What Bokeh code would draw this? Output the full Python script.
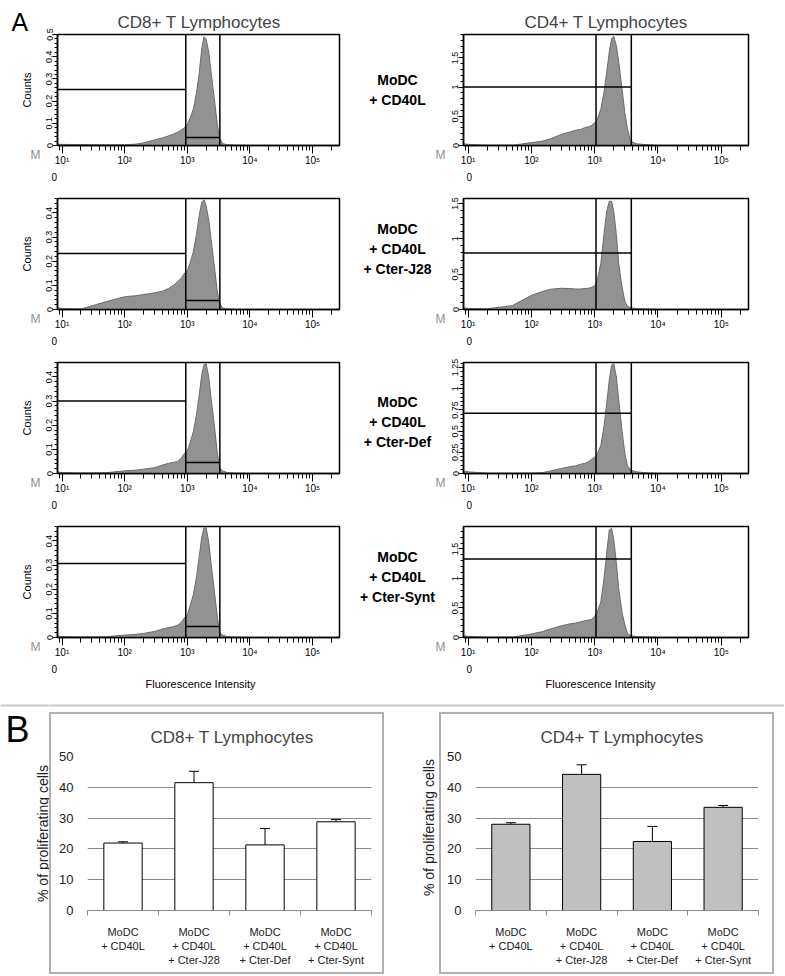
import math
from bokeh.plotting import figure
from bokeh.layouts import column, row
from bokeh.models import (Range1d, FixedTicker, SingleIntervalTicker, CustomJSTickFormatter,
                          Span, Whisker, TeeHead, ColumnDataSource, Title, Spacer)
from bokeh.core.properties import value
from bokeh.embed import file_html
from bokeh.resources import INLINE

FONT = "Liberation Sans"

# ---------------- data ----------------
X_BINS = [8.5, 10, 20, 50, 100, 150, 200, 300, 400, 500, 600, 700, 800, 900, 1000, 1100,
          1250, 1400, 1550, 1700, 1850, 2000, 2200, 2400, 2700, 3000, 3300, 3700, 4500, 6000, 10000]

CD8_CD40L = [0.006, 0.005, 0.004, 0.003, 0.003, 0.006, 0.012, 0.025, 0.034, 0.043, 0.052, 0.060,
             0.070, 0.080, 0.095, 0.120, 0.165, 0.235, 0.326, 0.435, 0.490, 0.480, 0.420, 0.330,
             0.210, 0.100, 0.030, 0.008, 0.003, 0.001, 0.0]
CD8_J28 = [0.008, 0.004, 0.002, 0.032, 0.053, 0.057, 0.062, 0.069, 0.076, 0.087, 0.100, 0.115,
           0.130, 0.150, 0.160, 0.190, 0.240, 0.310, 0.390, 0.445, 0.455, 0.430, 0.370, 0.290,
           0.180, 0.080, 0.022, 0.006, 0.002, 0.0, 0.0]
CD8_DEF = [0.006, 0.004, 0.002, 0.003, 0.011, 0.014, 0.018, 0.024, 0.035, 0.042, 0.046, 0.050,
           0.063, 0.083, 0.093, 0.125, 0.174, 0.243, 0.326, 0.410, 0.452, 0.455, 0.400, 0.310,
           0.200, 0.090, 0.022, 0.010, 0.003, 0.001, 0.0]
CD8_SYNT = [0.006, 0.004, 0.002, 0.003, 0.010, 0.013, 0.017, 0.025, 0.035, 0.041, 0.045, 0.051,
            0.062, 0.082, 0.094, 0.128, 0.178, 0.250, 0.335, 0.415, 0.455, 0.455, 0.395, 0.305,
            0.195, 0.088, 0.020, 0.009, 0.003, 0.001, 0.0]

CD4_CD40L = [0.03, 0.02, 0.004, 0.003, 0.05, 0.075, 0.115, 0.19, 0.23, 0.26, 0.276, 0.305, 0.32,
             0.345, 0.39, 0.45, 0.62, 0.91, 1.25, 1.6, 1.83, 1.87, 1.71, 1.43, 0.97, 0.56, 0.28,
             0.075, 0.03, 0.017, 0.0]
CD4_J28 = [0.025, 0.015, 0.01, 0.055, 0.2, 0.255, 0.287, 0.30, 0.296, 0.29, 0.29, 0.296, 0.30,
           0.315, 0.333, 0.417, 0.65, 1.06, 1.39, 1.53, 1.53, 1.39, 1.06, 0.65, 0.32, 0.116,
           0.046, 0.023, 0.014, 0.009, 0.0]
CD4_DEF = [0.03, 0.02, 0.003, 0.002, 0.004, 0.01, 0.03, 0.06, 0.08, 0.09, 0.11, 0.12, 0.14, 0.17,
           0.19, 0.23, 0.33, 0.55, 0.83, 1.1, 1.28, 1.30, 1.14, 0.87, 0.51, 0.23, 0.09, 0.04,
           0.02, 0.01, 0.0]
CD4_SYNT = [0.03, 0.02, 0.004, 0.005, 0.06, 0.10, 0.145, 0.20, 0.23, 0.245, 0.267, 0.283, 0.294,
            0.31, 0.35, 0.44, 0.60, 0.99, 1.43, 1.82, 1.85, 1.66, 1.27, 0.82, 0.43, 0.21, 0.07,
            0.03, 0.017, 0.01, 0.0]

CD8_Y_MAX = [0.5, 0.46, 0.46, 0.46]
CD4_Y_MAX = [1.9, 1.57, 1.31, 1.88]
CD8_Y_STEP = [0.1, 0.1, 0.1, 0.1]
CD4_Y_STEP = [0.5, 0.5, 0.25, 0.5]
CD8_GATE = [946, 3310]
CD4_GATE = [1050, 3790]
CD8_M1 = [0.252, 0.232, 0.30, 0.307]
CD8_M2 = [0.036, 0.037, 0.046, 0.046]
CD4_M1 = [1.0, 0.8, 0.71, 1.33]

CONDITIONS = ["MoDC\n+ CD40L", "MoDC\n+ CD40L\n+ Cter-J28",
              "MoDC\n+ CD40L\n+ Cter-Def", "MoDC\n+ CD40L\n+ Cter-Synt"]
DECADES = [10, 100, 1000, 10000, 100000]
X_MIN, X_MAX = 8.47, 269000

CD8_PCT = [21.9, 41.5, 21.3, 28.8]
CD8_ERR = [0.4, 3.7, 5.3, 0.7]
CD4_PCT = [28.0, 44.2, 22.4, 33.5]
CD4_ERR = [0.5, 3.1, 4.9, 0.6]

# ---------------- layout params (px) ----------------
ROW_GEOM = [(193, 34, 48), (164, 5, 48), (164, 5, 48), (179, 5, 63)]
HIST_H = sum(g[0] for g in ROW_GEOM)            # 700
FRAME_CENTERS = [89.5, 253.5, 417.5, 581.5]
FRAME_BOTTOMS = [145, 309, 473, 637]
COND_CENTERS = [89.5, 248, 421, 576]

LOG_FMT = CustomJSTickFormatter(code="""
const e = Math.round(Math.log10(tick));
const sup = ["\\u2070","\\u00b9","\\u00b2","\\u00b3","\\u2074","\\u2075","\\u2076"];
return "10" + sup[e];
""")
NUM_FMT = CustomJSTickFormatter(code="return String(Number(tick.toFixed(2)));")
MINOR = [m * d for d in [1, 10, 100, 1000, 10000, 100000] for m in range(2, 10)
         if X_MIN < m * d < X_MAX]


def blank_fig(width, height):
    p = figure(width=width, height=height, x_range=Range1d(0, width),
               y_range=Range1d(height, 0), output_backend="svg", toolbar_location=None,
               min_border=0, outline_line_color=None, background_fill_color="white",
               border_fill_color="white")
    p.axis.visible = False
    p.grid.visible = False
    return p


def hist_panel(counts, ymax, ystep, gate, m1, m2, geom, left_side, title=None, last=False):
    h, bt, bb = geom
    if left_side:
        w, bl, br = 305, 17, 6
        z_off, fi_off = -6, 88
    else:
        w, bl, br = 338, 17, 36
        z_off, fi_off = 3, 82
    p = figure(width=w, height=h, x_axis_type="log", x_range=Range1d(X_MIN, X_MAX),
               y_range=Range1d(0, ymax), output_backend="svg", toolbar_location=None,
               min_border_left=bl, min_border_right=br, min_border_top=bt,
               min_border_bottom=bb, title=title, background_fill_color="white",
               border_fill_color="white", outline_line_color="black", outline_line_width=1.5)
    p.grid.visible = False

    p.varea(x=X_BINS, y1=0, y2=counts, fill_color="#929292")
    p.line(x=X_BINS, y=counts, line_color="#6c6c6c", line_width=1)

    for g in gate:
        p.add_layout(Span(location=g, dimension="height", line_color="black", line_width=1.5))
    p.segment(x0=[X_MIN], y0=[m1], x1=[gate[0] if m2 is not None else gate[1]], y1=[m1],
              line_color="black", line_width=1.5)
    if m2 is not None:
        p.segment(x0=[gate[0]], y0=[m2], x1=[gate[1]], y1=[m2], line_color="black",
                  line_width=1.5)

    xa = p.xaxis[0]
    xa.ticker = FixedTicker(ticks=DECADES, minor_ticks=MINOR)
    xa.formatter = LOG_FMT
    xa.major_tick_out = 8
    xa.major_tick_in = 0
    xa.minor_tick_out = 5
    xa.minor_tick_in = 0
    xa.major_label_standoff = 1
    xa.major_label_text_font = FONT
    xa.major_label_text_font_size = "10px"
    xa.major_label_text_color = "black"
    xa.axis_line_width = 1.5

    ya = p.yaxis[0]
    ya.ticker = SingleIntervalTicker(interval=ystep, num_minor_ticks=5)
    ya.formatter = NUM_FMT
    ya.major_label_orientation = "vertical"
    ya.major_tick_out = 5
    ya.major_tick_in = 0
    ya.minor_tick_out = 3
    ya.minor_tick_in = 0
    ya.major_label_standoff = 0
    ya.major_label_text_font = FONT
    ya.major_label_text_font_size = "9px"
    ya.major_label_text_color = "black"
    ya.axis_line_width = 1.5

    # "0" marker under the lower-left corner, then the x label on the last row
    p.add_layout(Title(text="0", align="left", offset=z_off, vertical_align="bottom",
                       standoff=5, text_font=FONT, text_font_size="10px",
                       text_font_style="normal", text_color="black"), "below")
    if last:
        p.add_layout(Title(text="Fluorescence Intensity", align="left", offset=fi_off,
                           vertical_align="bottom", standoff=0, text_font=FONT,
                           text_font_size="11px", text_font_style="normal",
                           text_color="black"), "below")
    return p


def col_title(text, off):
    return Title(text=text, align="left", offset=off, text_font=FONT, text_font_size="17px",
                 text_font_style="normal", standoff=6)


CD8_SETS = [CD8_CD40L, CD8_J28, CD8_DEF, CD8_SYNT]
CD4_SETS = [CD4_CD40L, CD4_J28, CD4_DEF, CD4_SYNT]

left_col, right_col = [], []
for i in range(4):
    left_col.append(hist_panel(CD8_SETS[i], CD8_Y_MAX[i], CD8_Y_STEP[i], CD8_GATE, CD8_M1[i],
                               CD8_M2[i], ROW_GEOM[i], True,
                               title=col_title("CD8+ T Lymphocytes", 60) if i == 0 else None,
                               last=(i == 3)))
    right_col.append(hist_panel(CD4_SETS[i], CD4_Y_MAX[i], CD4_Y_STEP[i], CD4_GATE, CD4_M1[i],
                                None, ROW_GEOM[i], False,
                                title=col_title("CD4+ T Lymphocytes", 61) if i == 0 else None,
                                last=(i == 3)))

M_Y = [b + 9 for b in FRAME_BOTTOMS]

# narrow left strip: panel letter, "Counts" axis titles, "M" markers
strip = blank_fig(40, HIST_H)
strip.text(x=[11], y=[7], text=["A"], text_font=value(FONT), text_font_size="25px",
           text_align="left", text_baseline="top", text_color="black")
strip.text(x=[26] * 4, y=FRAME_CENTERS, text=["Counts"] * 4, angle=math.pi / 2,
           text_font=value(FONT), text_font_size="11px", text_align="center",
           text_baseline="middle", text_color="black")
strip.text(x=[35] * 4, y=M_Y, text=["M"] * 4, text_font=value(FONT), text_font_size="12px",
           text_align="center", text_baseline="middle", text_color="#909090")

# middle strip: condition labels and the right panels' "M" markers
mid = blank_fig(101, HIST_H)
mid.text(x=[52] * 4, y=COND_CENTERS, text=CONDITIONS, text_font=value(FONT),
         text_font_size="14px", text_font_style="bold", text_align="center",
         text_baseline="middle", text_line_height=1.25, text_color="black")
mid.text(x=[95] * 4, y=M_Y, text=["M"] * 4, text_font=value(FONT), text_font_size="12px",
         text_align="center", text_baseline="middle", text_color="#909090")

hist_block = row(strip, column(*left_col), mid, column(*right_col))

# ---------------- bar charts ----------------
BAR_H = 258
BOX_COLOR = "#b0b0b0"


def bar_panel(title, pct, err, fill, width, bl, br, title_offset):
    xs = list(range(1, len(CONDITIONS) + 1))
    p = figure(width=width, height=BAR_H, x_range=Range1d(0.5, 4.5), y_range=Range1d(0, 50),
               output_backend="svg", toolbar_location=None, min_border_left=bl,
               min_border_right=br, min_border_top=42, min_border_bottom=BAR_H - 42 - 154,
               outline_line_color=None, background_fill_color="white",
               border_fill_color="white",
               title=Title(text=title, align="left", offset=title_offset, text_font=FONT,
                           text_font_size="17px", text_font_style="normal",
                           vertical_align="middle", standoff=18))
    p.xgrid.visible = False
    p.ygrid.grid_line_color = "#8a8a8a"
    p.ygrid.grid_line_width = 1
    p.vbar(x=xs, top=pct, width=0.54, fill_color=fill, line_color="black", line_width=1)
    src = ColumnDataSource(dict(x=xs, lower=pct, upper=[v + e for v, e in zip(pct, err)]))
    p.add_layout(Whisker(source=src, base="x", lower="lower", upper="upper",
                         dimension="height", line_color="black", line_width=1,
                         upper_head=TeeHead(size=10, line_color="black", line_width=1),
                         lower_head=None))

    xa = p.xaxis[0]
    xa.ticker = FixedTicker(ticks=xs, minor_ticks=[x - 0.5 for x in xs] + [xs[-1] + 0.5])
    xa.formatter = CustomJSTickFormatter(args=dict(labels=CONDITIONS),
                                         code="return labels[Math.round(tick) - 1] || '';")
    xa.axis_line_color = "#8a8a8a"
    xa.major_tick_line_color = None
    xa.minor_tick_line_color = "#8a8a8a"
    xa.minor_tick_out = 5
    xa.minor_tick_in = 0
    xa.major_label_standoff = 9
    xa.major_label_text_font = FONT
    xa.major_label_text_font_size = "11px"
    xa.major_label_text_color = "#222222"

    ya = p.yaxis[0]
    ya.ticker = SingleIntervalTicker(interval=10, num_minor_ticks=0)
    ya.axis_line_color = None
    ya.major_tick_line_color = None
    ya.minor_tick_line_color = None
    ya.major_label_standoff = 8
    ya.major_label_text_font = FONT
    ya.major_label_text_font_size = "13px"
    ya.major_label_text_color = "#222222"
    return p


bar_l = bar_panel("CD8+ T Lymphocytes", CD8_PCT, CD8_ERR, "white", 331, 36, 11, 63)
bar_r = bar_panel("CD4+ T Lymphocytes", CD4_PCT, CD4_ERR, "#c0c0c0", 331, 34, 14, 65)

YLAB = "% of proliferating cells"
LOWER_H = 12 + 2 + BAR_H + 2   # 274

# left strip of the lower part: separator piece, "B", first y-axis title
b_strip = blank_fig(49, LOWER_H)
b_strip.segment(x0=[0], y0=[5], x1=[49], y1=[5], line_color="#c8c8c8", line_width=2)
b_strip.text(x=[5], y=[8], text=["B"], text_font=value(FONT), text_font_size="36px",
             text_align="left", text_baseline="top", text_color="black")
b_strip.text(x=[42], y=[133], text=[YLAB], angle=math.pi / 2, text_font=value(FONT),
             text_font_size="14px", text_align="center", text_baseline="middle",
             text_color="#222222")

sep_r = blank_fig(735, 12)
sep_r.segment(x0=[0], y0=[5], x1=[735], y1=[5], line_color="#c8c8c8", line_width=2)

gap = blank_fig(55, BAR_H)
gap.text(x=[44], y=[119], text=[YLAB], angle=math.pi / 2, text_font=value(FONT),
         text_font_size="14px", text_align="center", text_baseline="middle",
         text_color="#222222")

rspace = blank_fig(10, BAR_H)


def hedge():
    return row(Spacer(width=335, height=2, styles={"background-color": BOX_COLOR}),
               Spacer(width=55, height=2),
               Spacer(width=335, height=2, styles={"background-color": BOX_COLOR}),
               Spacer(width=10, height=2))


def vedge():
    return Spacer(width=2, height=BAR_H, styles={"background-color": BOX_COLOR})


main_row = row(vedge(), bar_l, vedge(), gap, vedge(), bar_r, vedge(), rspace)
bar_block = row(b_strip, column(sep_r, hedge(), main_row, hedge()))

layout = column(hist_block, bar_block)

open("out.html", "w", encoding="utf-8").write(file_html(layout, INLINE))
